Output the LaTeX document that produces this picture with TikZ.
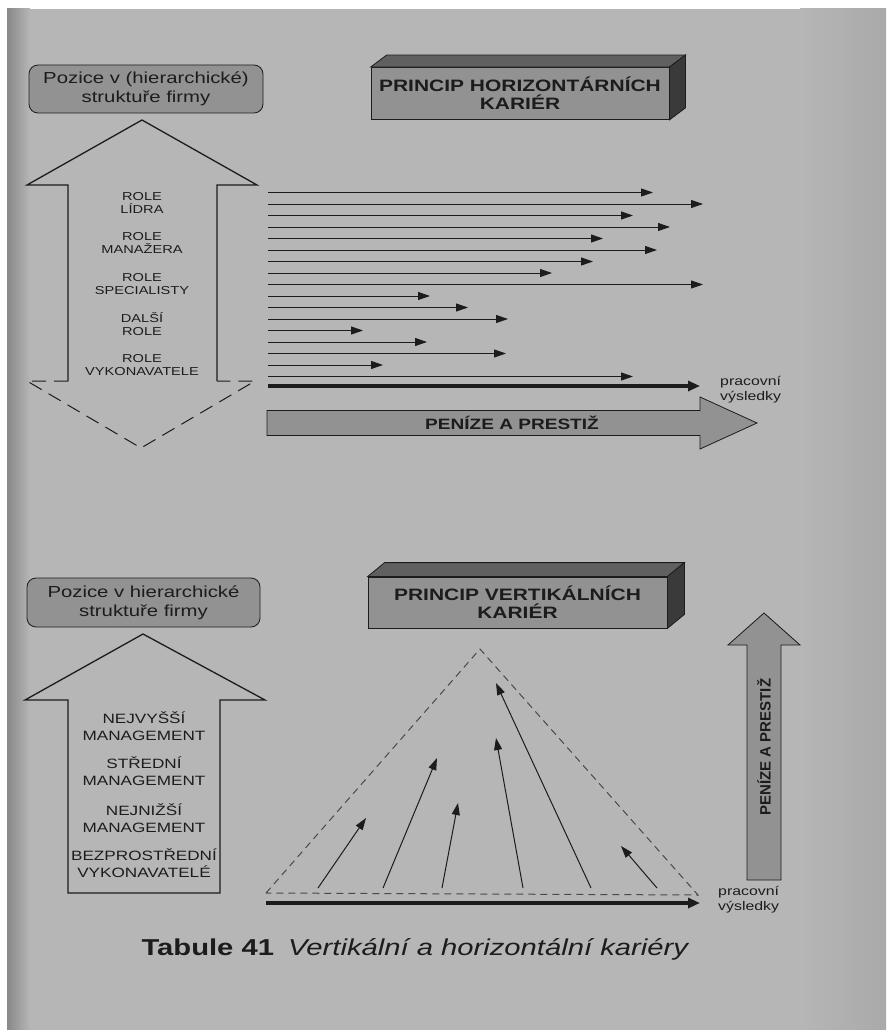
\documentclass[tikz,border=0pt]{standalone}
\usepackage{fontspec}
\setmainfont{Liberation Sans}[FakeStretch=1.27]
\newfontfamily\uprightsans{Liberation Sans}
\usepackage{tikz}
\usetikzlibrary{positioning, calc, arrows.meta}
\definecolor{page}{RGB}{182,182,182}
\definecolor{ink}{RGB}{28,28,28}
\definecolor{boxgray}{RGB}{146,146,146}
\definecolor{topgray}{RGB}{96,96,96}
\definecolor{sidegray}{RGB}{58,58,58}
\tikzset{>={Triangle[length=12pt,width=8pt]}}
\tikzset{position box/.style={draw=ink, fill=boxgray, line width=0.8pt, rounded corners=9pt, align=center, inner sep=0pt, minimum width=234pt, minimum height=48pt, text=ink, font=\fontsize{16}{19}\selectfont}}
\tikzset{header/.style={draw=ink, fill=boxgray, line width=0.8pt, align=center, inner sep=0pt, minimum width=298pt, minimum height=52pt, text=ink, font=\bfseries\fontsize{16.5}{18}\selectfont}}

\begin{document}
\begin{tikzpicture}
    [x=1pt, y=-1pt,
      role/.style={align=center, text=ink, font=\fontsize{11.5}{13.5}\selectfont},
      level/.style={align=center, text=ink, font=\fontsize{13.5}{17}\selectfont},
      result/.style={align=left, text=ink, inner sep=0pt, font=\fontsize{12.5}{15}\selectfont},
      money/.style={text=ink, font=\bfseries\fontsize{15}{17}\selectfont},
      career/.style={->, ink, line width=1pt},
      outline/.style={ink, line width=1.3pt, line join=miter}]

    \useasboundingbox (0,0) rectangle (886,1030);
    \fill[white] (0,0) rectangle (886,1030);
    \fill[page] (7,9) rectangle (886,1030);
    \shade[left color=page!75!black, right color=page] (7,9) rectangle (30,1030);
    \shade[left color=page, right color=page!93!black] (800,9) rectangle (886,1030);

    % horizontal careers
    \node[position box] (PH) at (146,89) {Pozice v (hierarchické)\\struktuře firmy};

    \draw[outline] (68,381) -- (68,185) -- (27,185) -- (142,120) -- (257,185) -- (217,185) -- (217,381);
    \draw[outline, line width=1pt, dash pattern=on 14pt off 8pt] (68,381) -- (27,381) -- (141,448) -- (255,381) -- (217,381);

    \node[role] (R1) at (142,203) {ROLE\\LÍDRA};
    \node[role] (R2) at (142,243) {ROLE\\MANAŽERA};
    \node[role] (R3) at (142,284) {ROLE\\SPECIALISTY};
    \node[role] (R4) at (142,324) {DALŠÍ\\ROLE};
    \node[role] (R5) at (142,365) {ROLE\\VYKONAVATELE};

    \node[header] (HH) at (520,93.5) {PRINCIP HORIZONTÁRNÍCH\\KARIÉR};
    \filldraw[fill=topgray, draw=ink, line width=0.8pt] (HH.north west) -- ++(16,-12) -- ($(HH.north east)+(16,-12)$) -- (HH.north east) -- cycle;
    \filldraw[fill=sidegray, draw=ink, line width=0.8pt] (HH.north east) -- ++(16,-12) -- ($(HH.south east)+(16,-12)$) -- (HH.south east) -- cycle;

    \foreach \y/\xe [count=\i] in {192.5/653, 204/703, 215.5/633, 227/670, 238.5/603, 250/657,
        261.5/593, 273/552, 284.5/703, 296/430, 307.5/468, 319/508, 330.5/363, 342/427,
        353.5/506, 365/383, 376.5/633} {
      \coordinate (h\i a) at (268,\y);
      \coordinate (h\i b) at (\xe,\y);
      \draw[career] (h\i a) -- (h\i b);
    }
    \coordinate (HWa) at (268,386);
    \coordinate (HWb) at (700,386);
    \draw[-{Triangle[length=12pt,width=10pt]}, ink, line width=4pt] (HWa) -- (HWb);
    \node[result, anchor=west] (HR) at (720,390) {pracovní\\výsledky};

    \filldraw[fill=boxgray, draw=ink, line width=0.8pt] (267,410.5) -- (700,410.5) -- (700,397) -- (757,423) -- (700,449) -- (700,435.5) -- (267,435.5) -- cycle;
    \node[money] (HM) at (512,423) {PENÍZE A PRESTIŽ};

    % vertical careers
    \node[position box, minimum width=233pt, minimum height=49pt] (PV) at (143.5,602.5) {Pozice v hierarchické\\struktuře firmy};

    \draw[outline] (68,893) -- (68,700) -- (25,700) -- (143,634) -- (265,700) -- (220,700) -- (220,893) -- cycle;

    \node[level] (L1) at (144,726.5) {NEJVYŠŠÍ\\MANAGEMENT};
    \node[level] (L2) at (144,771) {STŘEDNÍ\\MANAGEMENT};
    \node[level] (L3) at (144,818) {NEJNIŽŠÍ\\MANAGEMENT};
    \node[level] (L4) at (144,863.5) {BEZPROSTŘEDNÍ\\VYKONAVATELÉ};

    \node[header, minimum width=299pt, minimum height=51pt] (HV) at (517.5,602.5) {PRINCIP VERTIKÁLNÍCH\\KARIÉR};
    \filldraw[fill=topgray, draw=ink, line width=0.8pt] (HV.north west) -- ++(17,-14) -- ($(HV.north east)+(17,-14)$) -- (HV.north east) -- cycle;
    \filldraw[fill=sidegray, draw=ink, line width=0.8pt] (HV.north east) -- ++(17,-14) -- ($(HV.south east)+(17,-14)$) -- (HV.south east) -- cycle;

    \draw[ink!80, line width=1pt, dash pattern=on 7pt off 5pt] (266,893) -- (480,649) -- (698,895) -- cycle;

    \foreach \xa/\xb/\yb [count=\i] in {318/366/818, 383/437/758, 442/458/803,
        523/496/738, 591/496/683, 657/621/846} {
      \coordinate (v\i a) at (\xa,888);
      \coordinate (v\i b) at (\xb,\yb);
      \draw[career] (v\i a) -- (v\i b);
    }
    \coordinate (VWa) at (266,903);
    \coordinate (VWb) at (700,903);
    \draw[-{Triangle[length=12pt,width=10pt]}, ink, line width=4pt] (VWa) -- (VWb);
    \node[result, anchor=west] (VR) at (718,900) {pracovní\\výsledky};

    \filldraw[fill=boxgray, draw=ink, line width=0.8pt] (747,880) -- (747,645) -- (728,645) -- (764,613) -- (800,645) -- (781,645) -- (781,880) -- cycle;
    \node[money, rotate=90, font=\uprightsans\bfseries\fontsize{15}{17}\selectfont] (VM) at (764,747) {PENÍZE A PRESTIŽ};

    \node[anchor=base east, text=ink, font=\fontsize{23}{27}\selectfont] (CAP) at (693,955)
      {\textbf{Tabule 41}\hspace{14pt}\textit{Vertikální a horizontální kariéry}};
  \end{tikzpicture}
\end{document}
